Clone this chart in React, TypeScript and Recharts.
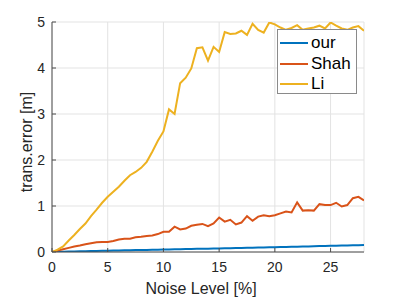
import { CartesianGrid, Label, Line, LineChart, XAxis, YAxis } from "recharts"

const noiseLevels = [
  0, 0.5, 1, 1.5, 2, 2.5, 3, 3.5, 4, 4.5, 5, 5.5, 6, 6.5, 7, 7.5, 8, 8.5, 9, 9.5,
  10, 10.5, 11, 11.5, 12, 12.5, 13, 13.5, 14, 14.5, 15, 15.5, 16, 16.5, 17, 17.5,
  18, 18.5, 19, 19.5, 20, 20.5, 21, 21.5, 22, 22.5, 23, 23.5, 24, 24.5, 25, 25.5,
  26, 26.5, 27, 27.5, 28,
]

const ourError = [
  0, 0.003, 0.006, 0.009, 0.012, 0.015, 0.018, 0.02, 0.023, 0.026, 0.029, 0.031,
  0.034, 0.036, 0.039, 0.041, 0.044, 0.046, 0.049, 0.051, 0.054, 0.056, 0.058,
  0.061, 0.063, 0.066, 0.068, 0.071, 0.073, 0.076, 0.078, 0.081, 0.083, 0.086,
  0.089, 0.091, 0.094, 0.097, 0.1, 0.102, 0.105, 0.108, 0.111, 0.113, 0.116,
  0.119, 0.122, 0.125, 0.128, 0.131, 0.134, 0.137, 0.14, 0.143, 0.146, 0.149, 0.152,
]

const shahError = [
  0, 0.03, 0.06, 0.09, 0.12, 0.14, 0.17, 0.19, 0.21, 0.22, 0.22, 0.24, 0.27, 0.29,
  0.29, 0.32, 0.33, 0.35, 0.36, 0.39, 0.44, 0.44, 0.55, 0.49, 0.51, 0.57, 0.59,
  0.61, 0.56, 0.62, 0.75, 0.66, 0.7, 0.6, 0.64, 0.78, 0.68, 0.77, 0.8, 0.78, 0.8,
  0.84, 0.88, 0.86, 1.08, 0.9, 0.91, 0.9, 1.04, 1.02, 1.02, 1.07, 0.99, 1.02,
  1.17, 1.2, 1.12,
]

const liError = [
  0, 0.05, 0.12, 0.25, 0.37, 0.5, 0.62, 0.78, 0.92, 1.07, 1.2, 1.31, 1.42, 1.55,
  1.67, 1.74, 1.83, 1.96, 2.18, 2.42, 2.62, 3.1, 3.0, 3.67, 3.79, 3.99, 4.43, 4.45,
  4.16, 4.46, 4.35, 4.78, 4.74, 4.75, 4.81, 4.72, 4.96, 4.83, 4.77, 4.99, 4.95,
  4.88, 4.83, 4.87, 4.93, 4.83, 4.86, 4.88, 4.92, 4.86, 4.99, 4.92, 4.86, 4.83,
  4.88, 4.91, 4.81,
]

const xTicks = [0, 5, 10, 15, 20, 25]
const yTicks = [0, 1, 2, 3, 4, 5]

const series = [
  { key: "our", name: "our", color: "#0072BD" },
  { key: "shah", name: "Shah", color: "#D95319" },
  { key: "li", name: "Li", color: "#EDB120" },
]

const FONT = '"Liberation Sans", Arial, Helvetica, sans-serif'
const TEXT = "#262626"

const data = noiseLevels.map((x, i) => ({
  noise: x,
  our: ourError[i],
  shah: shahError[i],
  li: liError[i],
}))

function LegendBox() {
  return (
    <div
      style={{
        position: "absolute",
        left: 277,
        top: 29,
        width: 78,
        height: 63,
        border: "1px solid #8a8a8a",
        background: "#fff",
        fontFamily: FONT,
        fontSize: 17,
        color: "#000",
      }}
    >
      {series.map((s, i) => (
        <div
          key={s.key}
          style={{ position: "absolute", left: 2, top: 3 + i * 20.5, height: 20, display: "flex", alignItems: "center" }}
        >
          <div style={{ width: 28, height: 2, background: s.color }} />
          <span style={{ marginLeft: 3, lineHeight: "20px" }}>{s.name}</span>
        </div>
      ))}
    </div>
  )
}

export default function App() {
  return (
    <div style={{ position: "absolute", left: 0, top: 0, width: 403, height: 297, background: "#fff" }}>
      <LineChart
        width={403}
        height={297}
        data={data}
        margin={{ top: 22, right: 39, bottom: 0, left: 0 }}
        style={{ fontFamily: FONT }}
      >
        <CartesianGrid stroke="#e3e3e3" strokeWidth={1} />
        <XAxis
          dataKey="noise"
          type="number"
          domain={[0, 28]}
          ticks={xTicks}
          height={45}
          tickSize={-4}
          tickMargin={14}
          stroke="#4d4d4d"
          tick={{ fontSize: 14, fill: TEXT }}
          allowDataOverflow
        >
          <Label
            content={() => (
              <text x={201} y={288} textAnchor="middle" dominantBaseline="central" fontSize={16} fill={TEXT} fontFamily={FONT}>
                Noise Level [%]
              </text>
            )}
          />
        </XAxis>
        <YAxis
          type="number"
          domain={[0, 5]}
          ticks={yTicks}
          width={52}
          tickSize={-4}
          tickMargin={11}
          stroke="#4d4d4d"
          tick={{ fontSize: 14, fill: TEXT }}
          allowDataOverflow
        >
          <Label
            content={() => (
              <text
                x={26}
                y={142}
                transform="rotate(-90 26 142)"
                textAnchor="middle"
                dominantBaseline="central"
                fontSize={16}
                fill={TEXT}
                fontFamily={FONT}
              >
                trans.error [m]
              </text>
            )}
          />
        </YAxis>
        {series.map((s) => (
          <Line
            key={s.key}
            dataKey={s.key}
            name={s.name}
            stroke={s.color}
            strokeWidth={2}
            dot={false}
            isAnimationActive={false}
            type="linear"
          />
        ))}
      </LineChart>
      <LegendBox />
    </div>
  )
}
